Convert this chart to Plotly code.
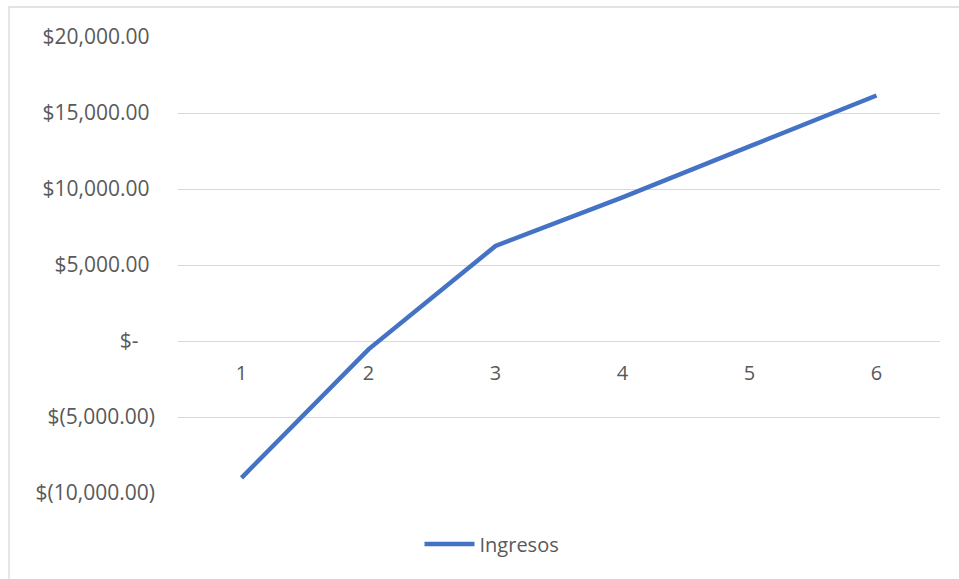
import plotly.graph_objects as go

# Periods and income values
periodos = [1, 2, 3, 4, 5, 6]
ingresos = [-9000, -550, 6250, 9450, 12800, 16150]

# Y-axis ticks in accounting style
y_ticks = [-10000, -5000, 0, 5000, 10000, 15000, 20000]
y_labels = ["$(10,000.00)", "$(5,000.00)", "$-\u00a0\u00a0\u00a0",
            "$5,000.00\u00a0", "$10,000.00\u00a0", "$15,000.00\u00a0", "$20,000.00\u00a0"]

W, H = 959, 579
L, R, T, B = 178, 19, 37, 86
pw, ph = W - L - R, H - T - B

font = dict(family="Open Sans, Lato, sans-serif", size=20, color="#595959")
yfont = dict(font, size=21)

fig = go.Figure()
fig.add_trace(go.Scatter(
    x=periodos, y=ingresos, mode="lines", name="Ingresos",
    line=dict(color="#4472C4", width=4.5),
))

fig.update_layout(
    width=W, height=H,
    margin=dict(l=L, r=R, t=T, b=B),
    paper_bgcolor="white", plot_bgcolor="white",
    font=font,
    showlegend=True,
    legend=dict(
        orientation="h",
        x=(492 - L) / pw, xanchor="center",
        y=(H - B - 544) / ph, yanchor="middle",
        font=font, itemwidth=50,
    ),
    xaxis=dict(
        range=[0.5, 6.5], tickvals=periodos, ticktext=[str(p) for p in periodos],
        showgrid=False, zeroline=False, showline=False, ticks="",
        anchor="free", position=1 / 3, ticklabelstandoff=18,
        tickfont=font,
    ),
    yaxis=dict(
        range=[-10000, 20000], tickvals=y_ticks, ticktext=y_labels,
        showgrid=True, gridcolor="#D9D9D9", gridwidth=1.3,
        zeroline=False, showline=False, ticks="",
        ticklabelstandoff=22, tickfont=yfont,
    ),
    shapes=[dict(
        type="rect", xref="paper", yref="paper",
        x0=(9 - L) / pw, x1=(W + 20 - L) / pw,
        y0=(H - B - (H + 20)) / ph, y1=1 + (T - 7) / ph,
        line=dict(color="#D9D9D9", width=1.3), fillcolor="rgba(0,0,0,0)",
        layer="below",
    )],
)

fig.write_html("out.html")
